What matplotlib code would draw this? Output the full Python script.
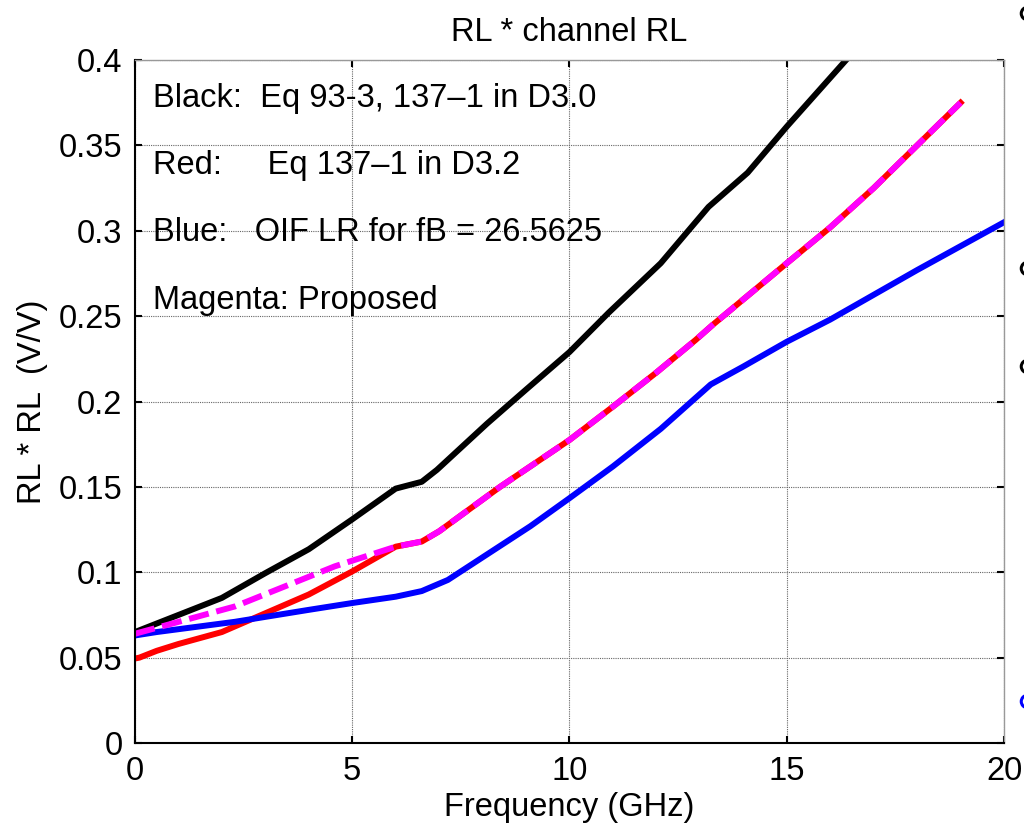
import numpy as np
import matplotlib
matplotlib.use("Agg")
import matplotlib.pyplot as plt
from matplotlib.lines import Line2D

plt.rcParams['font.family'] = ['Liberation Sans', 'DejaVu Sans']
plt.rcParams['font.size'] = 23.5

# 1. curve data (GHz, V/V)
f_black = [0, 1, 2, 3, 4, 5, 6, 6.6, 6.95, 8.1, 9, 10, 10.9, 12.1, 13.2, 14.1, 15, 16.4]
v_black = [0.065, 0.075, 0.085, 0.0995, 0.1135, 0.131, 0.149, 0.153, 0.160, 0.187, 0.207,
           0.229, 0.252, 0.281, 0.314, 0.334, 0.361, 0.401]

f_red = [0, 0.1, 0.5, 1, 2, 3, 4, 5, 6, 6.6, 7, 8.4, 10, 11, 12, 12.9, 13.3, 15, 16, 17, 18, 19]
v_red = [0.0495, 0.050, 0.054, 0.058, 0.065, 0.076, 0.087, 0.1005, 0.115, 0.118, 0.124, 0.150,
         0.1775, 0.197, 0.217, 0.236, 0.245, 0.281, 0.302, 0.325, 0.350, 0.375]

f_blue = [0, 0.5, 2.3, 4, 5, 6, 6.6, 7.2, 9.1, 10, 11, 12.1, 13.25, 14, 15, 16, 17, 18, 19, 20]
v_blue = [0.063, 0.065, 0.071, 0.078, 0.082, 0.0857, 0.089, 0.0955, 0.127, 0.1434, 0.162,
          0.184, 0.210, 0.2205, 0.235, 0.248, 0.2625, 0.277, 0.291, 0.305]

f_mag = [0, 2.3, 4.6, 6, 6.6, 7, 8.4, 10, 11, 12, 12.9, 13.3, 15, 16, 17, 18, 19]
v_mag = [0.064, 0.080, 0.1035, 0.115, 0.118, 0.124, 0.150, 0.1775, 0.197, 0.217, 0.236,
         0.245, 0.281, 0.302, 0.325, 0.350, 0.375]

notes = ["Black:  Eq 93-3, 137\u20131 in D3.0",
         "Red:     Eq 137\u20131 in D3.2",
         "Blue:   OIF LR for fB = 26.5625",
         "Magenta: Proposed"]

# 2. figure
fig = plt.figure(figsize=(10.24, 8.36), dpi=100)
ax = fig.add_axes([0.1318, 0.1112, 0.8487, 0.817])

lw = 4.3
ax.plot(f_black, v_black, color='k', lw=lw, solid_joinstyle='round')
ax.plot(f_red, v_red, color='r', lw=lw, solid_joinstyle='round')
ax.plot(f_blue, v_blue, color='b', lw=lw, solid_joinstyle='round')
ax.plot(f_mag, v_mag, color='magenta', lw=lw, dashes=(3.4, 1.3))

ax.set_xlim(0, 20)
ax.set_ylim(0, 0.4)
ax.set_xticks([0, 5, 10, 15, 20])
ax.set_yticks(np.arange(0, 0.401, 0.05))
ax.set_yticklabels(['0', '0.05', '0.1', '0.15', '0.2', '0.25', '0.3', '0.35', '0.4'])
ax.grid(True, color='0.4', lw=0.8, linestyle=(0, (1, 1)))
ax.tick_params(direction='in', length=5, width=1.5, top=True, right=True, pad=9)

for side in ['left', 'bottom']:
    ax.spines[side].set_linewidth(1.5)
for side in ['top', 'right']:
    ax.spines[side].set_color('0.6')
    ax.spines[side].set_linewidth(1.0)

ax.set_title("RL * channel RL", fontsize=23.5, pad=14)
ax.set_xlabel("Frequency (GHz)", labelpad=4)
ax.set_ylabel("RL * RL  (V/V)", labelpad=8)

# 3. legend text
for i, s in enumerate(notes):
    ax.text(0.021, 0.944 - i * 0.0985, s, transform=ax.transAxes, va='center', ha='left')

# 4. markers of the neighbouring panel, cut off at the right edge
for yy, cc in [(0.985, 'k'), (0.68, 'k'), (0.562, 'k'), (0.162, 'b')]:
    fig.add_artist(Line2D([1.003], [yy], transform=fig.transFigure, marker='o',
                          markersize=9, markerfacecolor='none', markeredgecolor=cc,
                          markeredgewidth=2.2, linestyle='none'))

plt.savefig("out.png", dpi=100)
plt.close()
